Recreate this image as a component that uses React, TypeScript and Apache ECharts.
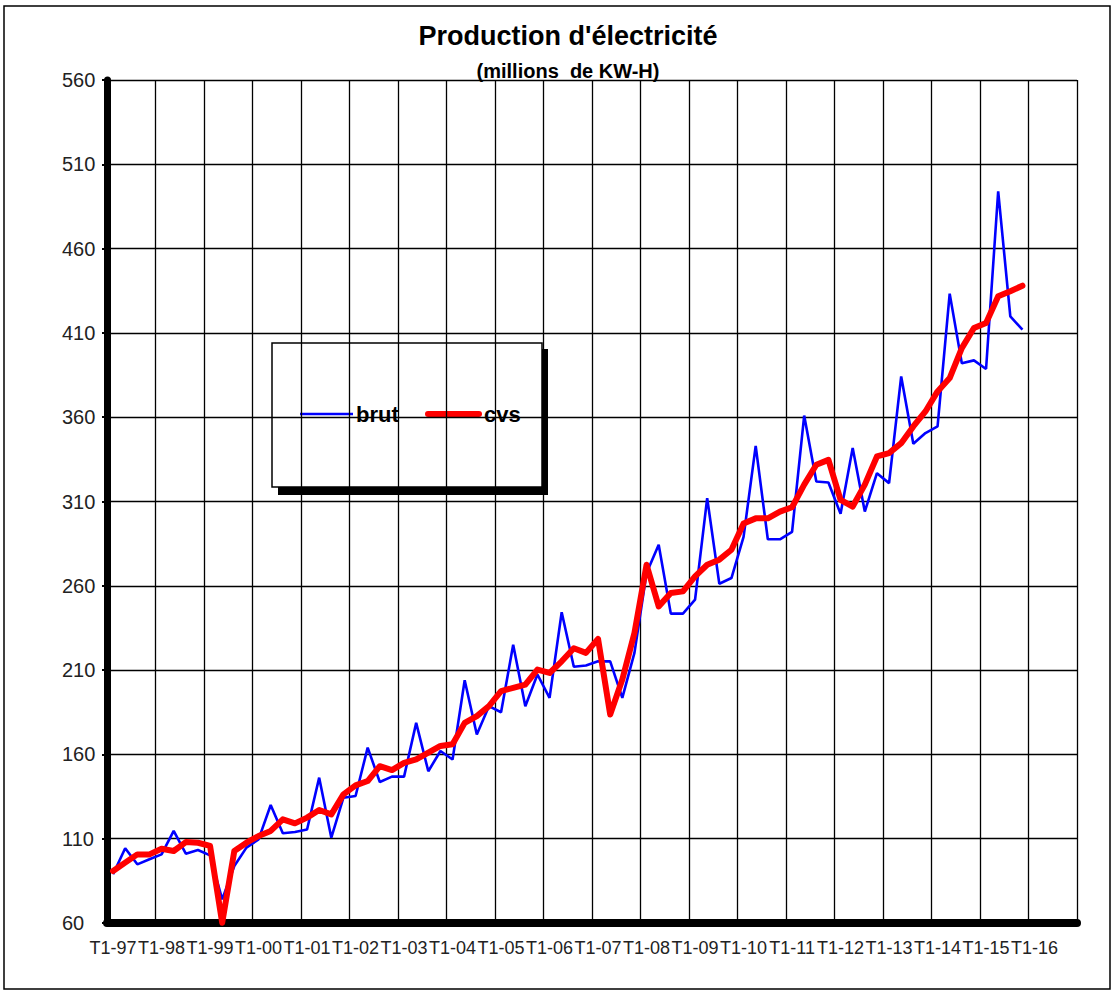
import React, { useEffect, useRef } from "react";
import * as echarts from "echarts";

const years = ["97", "98", "99", "00", "01", "02", "03", "04", "05", "06", "07", "08", "09", "10", "11", "12", "13", "14", "15", "16"];
const quarters = ["T1", "T2", "T3", "T4"];
const categories = years.flatMap((y) => quarters.map((q) => `${q}-${y}`));

const brut = [
  88.9, 104.3, 94.8, 97.8, 100.7, 114.6, 101.1, 103.3, 100.1, 74,
  93.8, 104.7, 109.6, 130, 113.2, 114, 115.5, 146.2, 110.6, 134.3,
  135.3, 164, 143.6, 146.8, 146.8, 178.7, 150, 162, 157, 204,
  171.8, 188.6, 185, 225, 188.6, 207.4, 193.5, 244.3, 212, 212.7,
  215.2, 215.2, 193.5, 220.2, 267.6, 284.3, 243.5, 243.5, 251.8, 312,
  261.2, 264.6, 289, 343, 287.6, 287.6, 292, 361, 321.9, 321.3,
  302.7, 341.7, 304, 326.8, 320.9, 384.2, 344.2, 350.6, 354.5, 433.3,
  392, 393.7, 388.6, 494, 419.8, 411.9,
];

const cvs = [
  90.8, 95.8, 100.7, 100.7, 104, 102.7, 108, 107.6, 105.7, 60.2,
  102.7, 107.6, 111.6, 114.6, 121.5, 119.1, 122.5, 127, 124.4, 136.3,
  141.6, 144.2, 153, 150.7, 155, 157, 161, 165, 166, 178.7,
  182.7, 188.6, 197.5, 199.5, 201.4, 210.3, 208.3, 215.2, 223, 220.2,
  228.5, 183.7, 204.4, 232, 272.5, 247.8, 255.7, 256.7, 265.6, 272.5,
  275.5, 281.4, 297, 300, 300, 304, 306.6, 320, 331.8, 334.7,
  311, 307, 320, 336.7, 338.7, 344.6, 354.5, 363.4, 375.3, 383.2,
  401, 412.9, 415.9, 431.7, 434.7, 438,
];

const titleText = "Production d'électricité";
const subtitleText = "(millions  de KW-H)";
const seriesNames = ["brut", "cvs"];

const FONT = "'Liberation Sans', Arial, sans-serif";

export default function App() {
  const ref = useRef<HTMLDivElement>(null);

  useEffect(() => {
    if (!ref.current) return;
    const chart = echarts.init(ref.current, undefined, { renderer: "svg" });
    chart.setOption({
      animation: false,
      backgroundColor: "#ffffff",
      title: {
        text: titleText,
        subtext: subtitleText,
        left: 563,
        top: 17,
        textAlign: "center",
        itemGap: 12,
        textStyle: { fontFamily: FONT, fontWeight: "bold", fontSize: 27, color: "#000" },
        subtextStyle: { fontFamily: FONT, fontWeight: "bold", fontSize: 20, color: "#000" },
      },
      grid: { left: 107, right: 35, top: 80, bottom: 72, containLabel: false },
      xAxis: {
        type: "category",
        data: categories,
        boundaryGap: true,
        axisLine: { lineStyle: { color: "#000", width: 8 } },
        axisTick: { show: false },
        axisLabel: {
          interval: (index: number) => index % 4 === 0,
          hideOverlap: false,
          fontFamily: FONT,
          fontSize: 18,
          color: "#222",
          margin: 16,
        },
        splitLine: { show: true, interval: 3, lineStyle: { color: "#000", width: 1.3 } },
      },
      yAxis: {
        type: "value",
        min: 60,
        max: 560,
        interval: 50,
        axisLine: { show: true, lineStyle: { color: "#000", width: 7 } },
        axisTick: { show: true, length: 5, lineStyle: { color: "#000", width: 2 } },
        axisLabel: { fontFamily: FONT, fontSize: 20, color: "#222", align: "left", margin: 45 },
        splitLine: { show: true, lineStyle: { color: "#000", width: 1.3 } },
      },
      series: [
        {
          name: seriesNames[0],
          type: "line",
          data: brut,
          symbol: "none",
          z: 3,
          lineStyle: { color: "#0000ff", width: 2.6 },
        },
        {
          name: seriesNames[1],
          type: "line",
          data: cvs,
          symbol: "none",
          z: 4,
          lineStyle: { color: "#ff0000", width: 6, cap: "round", join: "round" },
        },
      ],
      graphic: [
        {
          type: "rect",
          z: 1,
          silent: true,
          shape: { x: 4, y: 6, width: 1106, height: 983 },
          style: { fill: "none", stroke: "#000", lineWidth: 1.5 },
        },
        {
          type: "group",
          z: 20,
          children: [
            { type: "rect", shape: { x: 278, y: 349, width: 270, height: 146 }, style: { fill: "#000" } },
            { type: "rect", shape: { x: 272, y: 343, width: 270, height: 144 }, style: { fill: "#fff", stroke: "#000", lineWidth: 1.5 } },
            { type: "line", shape: { x1: 300, y1: 414, x2: 353, y2: 414 }, style: { stroke: "#0000ff", lineWidth: 2.6 } },
            { type: "text", x: 356, y: 414, style: { text: seriesNames[0], font: `bold 22px ${FONT}`, fill: "#000", verticalAlign: "middle", align: "left" } },
            { type: "line", shape: { x1: 428, y1: 414, x2: 479, y2: 414 }, style: { stroke: "#ff0000", lineWidth: 6, lineCap: "round" } },
            { type: "text", x: 484, y: 414, style: { text: seriesNames[1], font: `bold 22px ${FONT}`, fill: "#000", verticalAlign: "middle", align: "left" } },
          ],
        },
      ],
    });
    return () => chart.dispose();
  }, []);

  return (
    <div
      ref={ref}
      style={{ position: "fixed", left: 0, top: 0, width: 1112, height: 995, background: "#fff" }}
    />
  );
}
